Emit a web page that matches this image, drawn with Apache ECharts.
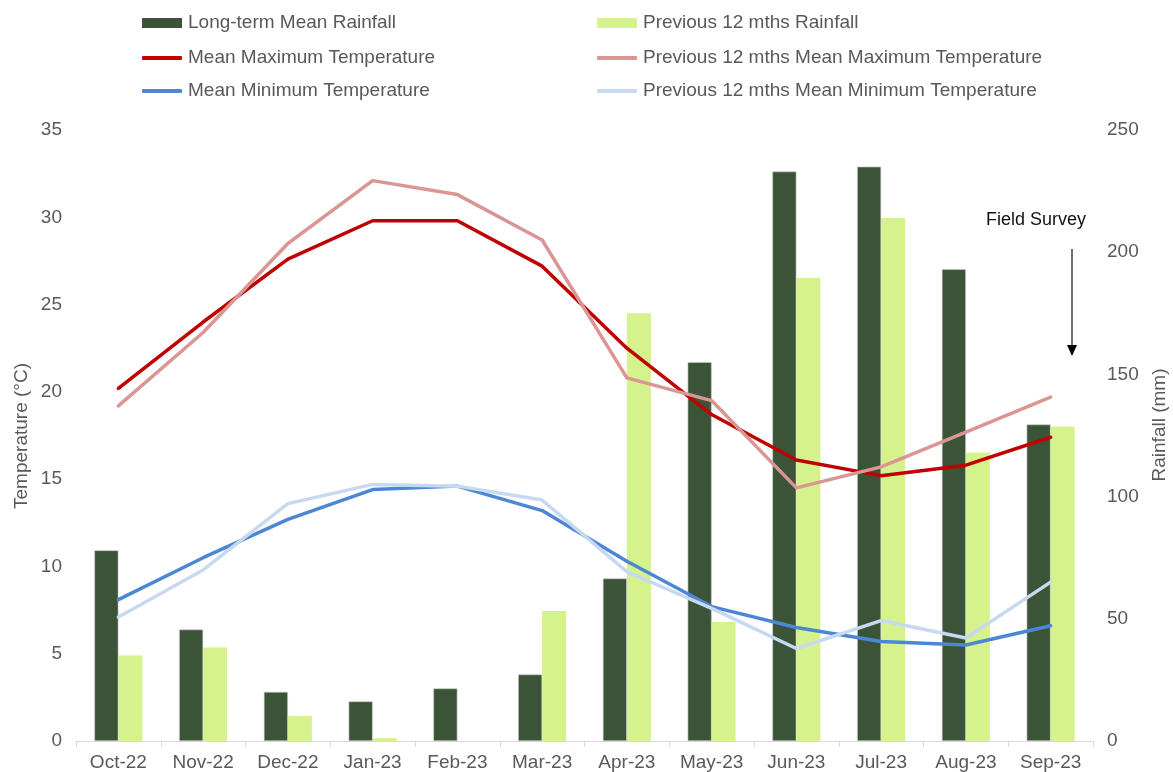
<!DOCTYPE html>
<html>
<head>
<meta charset="utf-8">
<script src="https://cdn.jsdelivr.net/npm/echarts@6/dist/echarts.min.js"></script>
<style>
html,body{margin:0;padding:0;background:#fff;}
#chart{width:1173px;height:772px;}
</style>
</head>
<body>
<div id="chart"></div>
<script>
const categories = ['Oct-22','Nov-22','Dec-22','Jan-23','Feb-23','Mar-23','Apr-23','May-23','Jun-23','Jul-23','Aug-23','Sep-23'];
const longTermRain = [78, 45.6, 20.1, 16.2, 21.5, 27.2, 66.5, 155, 233, 235, 193, 129.5];
const prevRain = [35, 38.3, 10.3, 1.2, 0, 53.2, 175, 48.7, 189.5, 214, 118, 128.7];
const meanMax = [20.2, 24.0, 27.6, 29.8, 29.8, 27.2, 22.5, 18.7, 16.1, 15.2, 15.8, 17.4];
const prevMax = [19.2, 23.4, 28.5, 32.1, 31.3, 28.7, 20.8, 19.5, 14.5, 15.7, 17.7, 19.7];
const meanMin = [8.1, 10.5, 12.7, 14.4, 14.6, 13.2, 10.3, 7.7, 6.5, 5.7, 5.5, 6.6];
const prevMin = [7.1, 9.8, 13.6, 14.7, 14.6, 13.8, 9.7, 7.6, 5.3, 6.9, 5.9, 9.1];
const tempTicks = {min: 0, max: 35, interval: 5};
const rainTicks = {min: 0, max: 250, interval: 50};

const FONT = 'Liberation Sans, Arial, sans-serif';
const TXT = '#595959';
const C = {
  dark: '#3B5336', light: '#D5F28C', red: '#C00000', pink: '#DA9694', blue: '#4C87D6', lblue: '#C6D9F1'
};

function leg(name, left, top, h, icon) {
  return {
    data: [name], left: left, top: top, padding: 0, itemWidth: 40, itemHeight: h, icon: icon,
    itemGap: 0, selectedMode: false,
    itemStyle: {borderWidth: 0},
    textStyle: {fontFamily: FONT, fontSize: 19, color: TXT, lineHeight: 20, padding: [0,0,0,1]}
  };
}

const chart = echarts.init(document.getElementById('chart'), null, {renderer: 'canvas'});
chart.setOption({
  animation: false,
  backgroundColor: '#fff',
  legend: [
    leg('Long-term Mean Rainfall', 142, 13, 10, 'rect'),
    leg('Mean Maximum Temperature', 142, 48, 4, 'roundRect'),
    leg('Mean Minimum Temperature', 142, 81, 4, 'roundRect'),
    leg('Previous 12 mths Rainfall', 597, 13, 10, 'rect'),
    leg('Previous 12 mths Mean Maximum Temperature', 597, 48, 4, 'roundRect'),
    leg('Previous 12 mths Mean Minimum Temperature', 597, 81, 4, 'roundRect')
  ],
  grid: {left: 76, right: 80, top: 130, bottom: 30, containLabel: false},
  xAxis: {
    type: 'category', data: categories, boundaryGap: true,
    axisLine: {lineStyle: {color: '#d9d9d9', width: 1}},
    axisTick: {show: true, alignWithLabel: false, length: 6, lineStyle: {color: '#d9d9d9'}},
    axisLabel: {fontFamily: FONT, fontSize: 19, color: TXT, margin: 12, interval: 0}
  },
  yAxis: [
    {
      type: 'value', min: tempTicks.min, max: tempTicks.max, interval: tempTicks.interval,
      axisLine: {show: false}, axisTick: {show: false}, splitLine: {show: false},
      axisLabel: {fontFamily: FONT, fontSize: 19, color: TXT, margin: 14}
    },
    {
      type: 'value', min: rainTicks.min, max: rainTicks.max, interval: rainTicks.interval,
      axisLine: {show: false}, axisTick: {show: false}, splitLine: {show: false},
      axisLabel: {fontFamily: FONT, fontSize: 19, color: TXT, margin: 14}
    }
  ],
  series: [
    {name: 'Long-term Mean Rainfall', type: 'bar', yAxisIndex: 1, data: longTermRain, color: C.dark,
     barWidth: 24, barGap: '0%', itemStyle: {color: C.dark, borderColor: '#c9c9c9', borderWidth: 0.6}, z: 2},
    {name: 'Previous 12 mths Rainfall', type: 'bar', yAxisIndex: 1, data: prevRain, color: C.light,
     barWidth: 24, barGap: '0%', itemStyle: {color: C.light}, z: 2},
    {name: 'Mean Maximum Temperature', type: 'line', yAxisIndex: 0, data: meanMax, color: C.red,
     symbol: 'none', showSymbol: false, lineStyle: {color: C.red, width: 3.5, cap: 'round', join: 'round'}, z: 3},
    {name: 'Previous 12 mths Mean Maximum Temperature', type: 'line', yAxisIndex: 0, data: prevMax, color: C.pink,
     symbol: 'none', showSymbol: false, lineStyle: {color: C.pink, width: 3.5, cap: 'round', join: 'round'}, z: 3},
    {name: 'Mean Minimum Temperature', type: 'line', yAxisIndex: 0, data: meanMin, color: C.blue,
     symbol: 'none', showSymbol: false, lineStyle: {color: C.blue, width: 3.5, cap: 'round', join: 'round'}, z: 3},
    {name: 'Previous 12 mths Mean Minimum Temperature', type: 'line', yAxisIndex: 0, data: prevMin, color: C.lblue,
     symbol: 'none', showSymbol: false, lineStyle: {color: C.lblue, width: 3.5, cap: 'round', join: 'round'}, z: 3}
  ],
  graphic: [
    {type: 'text', x: 22, y: 436, rotation: Math.PI / 2,
     style: {text: 'Temperature (°C)', fontFamily: FONT, fontSize: 19, fill: TXT, align: 'center', verticalAlign: 'middle'}},
    {type: 'text', x: 1160, y: 425, rotation: Math.PI / 2,
     style: {text: 'Rainfall (mm)', fontFamily: FONT, fontSize: 19, fill: TXT, align: 'center', verticalAlign: 'middle'}},
    {type: 'text', x: 1036, y: 220,
     style: {text: 'Field Survey', fontFamily: FONT, fontSize: 18, fill: '#111', align: 'center', verticalAlign: 'middle'}},
    {type: 'line', shape: {x1: 1072, y1: 249, x2: 1072, y2: 347}, style: {stroke: '#404040', lineWidth: 1.5}},
    {type: 'polygon', shape: {points: [[1067, 345], [1077, 345], [1072, 356]]}, style: {fill: '#000'}}
  ]
});
</script>
</body>
</html>
